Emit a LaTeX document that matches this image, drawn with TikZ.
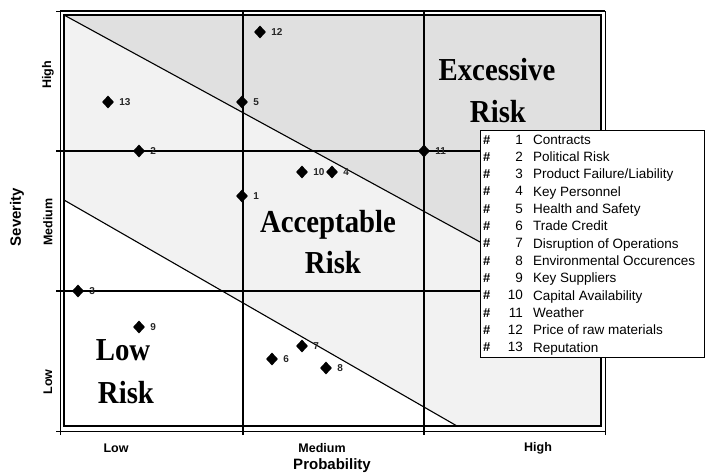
\documentclass[tikz,border=0pt]{standalone}
\usepackage{fontspec}
\setmainfont{Liberation Serif}
\setsansfont{Liberation Sans}
\usetikzlibrary{shapes.geometric}
\begin{document}
\begin{tikzpicture}[x=1pt,y=-1pt,
  pt/.style={diamond,fill=black,inner sep=0pt,minimum width=12pt,minimum height=13pt},
  plbl/.style={font=\sffamily\bfseries\fontsize{10}{12}\selectfont,inner sep=1pt,text=black!85},
  big/.style={font=\rmfamily\bfseries\fontsize{32}{36}\selectfont,inner sep=0pt,anchor=base},
  ticklbl/.style={font=\sffamily\bfseries\fontsize{12.5}{15}\selectfont,inner sep=0pt},
  axlbl/.style={font=\sffamily\bfseries\fontsize{15}{18}\selectfont,inner sep=0pt},
  leg/.style={font=\sffamily\fontsize{13.5}{16}\selectfont,inner sep=0pt,anchor=base west},
  leghash/.style={font=\sffamily\bfseries\fontsize{13}{16}\selectfont,inner sep=0pt,anchor=base west},
  legnum/.style={font=\sffamily\fontsize{13.5}{16}\selectfont,inner sep=0pt,anchor=base east},
  gridline/.style={line width=1.4pt},
  diag/.style={line width=1.1pt},
  label distance=4pt]
\useasboundingbox (0,0) rectangle (705,475);
% corners
\coordinate (o1) at (60,11);
\coordinate (o2) at (605,431);
\coordinate (i1) at (64,15);
\coordinate (i2) at (601,426);
% diagonal ends
\coordinate (ua) at (64,15);
\coordinate (ub) at (601,308);
\coordinate (la) at (64,200);
\coordinate (lb) at (457,426);
% regions
\fill[black!5] (la) -- (64,15) -- (601,15) -- (601,426) -- (lb) -- cycle;
\fill[black!12] (ua) -- (601,15) -- (ub) -- cycle;
% diagonals
\draw[diag] (ua) -- (ub);
\draw[diag] (la) -- (lb);
% grid
\coordinate (v1a) at (243,11); \coordinate (v1b) at (243,435);
\coordinate (v2a) at (424,11); \coordinate (v2b) at (424,435);
\coordinate (h1a) at (56,151); \coordinate (h1b) at (605,151);
\coordinate (h2a) at (56,291); \coordinate (h2b) at (605,291);
\draw[gridline] (v1a) -- (v1b);
\draw[gridline] (v2a) -- (v2b);
\draw[gridline] (h1a) -- (h1b);
\draw[gridline] (h2a) -- (h2b);
% frames
\draw[line width=0.9pt] (o1) rectangle (o2);
\draw[line width=2pt] (o1) -- (605,11);
\draw[line width=1.3pt] (i1) rectangle (i2);
% ticks
\foreach \y [count=\k] in {11,431} { \coordinate (tka\k) at (56,\y); \coordinate (tkb\k) at (60,\y); \draw (tka\k) -- (tkb\k); }
\foreach \x [count=\k] in {60,605} { \coordinate (tkc\k) at (\x,435); \coordinate (tkd\k) at (\x,431); \draw (tkc\k) -- (tkd\k); }
% points
\node[pt,label={[plbl]right:12}] (p12) at (260,32) {};
\node[pt,label={[plbl]right:13}] (p13) at (108,102) {};
\node[pt,label={[plbl]right:5}] (p5) at (242,102) {};
\node[pt,label={[plbl]right:2}] (p2) at (139,151) {};
\node[pt,label={[plbl]right:10}] (p10) at (302,172) {};
\node[pt,label={[plbl]right:4}] (p4) at (332,172) {};
\node[pt,label={[plbl]right:1}] (p1) at (242,196) {};
\node[pt,label={[plbl]right:11}] (p11) at (424,151) {};
\node[pt,label={[plbl]right:3}] (p3) at (78,291) {};
\node[pt,label={[plbl]right:9}] (p9) at (139,327) {};
\node[pt,label={[plbl]right:7}] (p7) at (302,346) {};
\node[pt,label={[plbl]right:6}] (p6) at (272,359) {};
\node[pt,label={[plbl]right:8}] (p8) at (326,368) {};
% region labels
\node[big] (ex1) at (497,80) {\scalebox{0.9}[1]{Excessive}};
\node[big] (ex2) at (498,122) {\scalebox{0.9}[1]{Risk}};
\node[big] (ac1) at (328,232) {\scalebox{0.9}[1]{Acceptable}};
\node[big] (ac2) at (333,273) {\scalebox{0.9}[1]{Risk}};
\node[big] (lo1) at (123,360) {\scalebox{0.9}[1]{Low}};
\node[big] (lo2) at (126,403) {\scalebox{0.9}[1]{Risk}};
% axis tick labels
\node[ticklbl,rotate=90] (yh) at (48,75) {High};
\node[ticklbl,rotate=90] (ym) at (48,222) {Medium};
\node[ticklbl,rotate=90] (yl) at (48,382) {Low};
\node[ticklbl] (xl) at (116,448) {Low};
\node[ticklbl] (xm) at (322,448) {Medium};
\node[ticklbl] (xh) at (538,448) {High};
\node[axlbl,rotate=90] (sev) at (17,217) {Severity};
\node[axlbl] (prob) at (332,466) {Probability};
% legend
\coordinate (lg1) at (480,130);
\coordinate (lg2) at (704.5,357);
\draw[fill=white,line width=0.9pt] (lg1) rectangle (lg2);
\foreach \i in {1,...,13} {
  \pgfmathsetmacro{\b}{144+(\i-1)*17.33}
  \node[leghash] (lh\i) at (483,\b) {\#};
  \node[legnum] (ln\i) at (523,\b) {\i};
}
\node[leg] (lt1) at (533,144) {Contracts};
\node[leg] (lt2) at (533,161.33) {Political Risk};
\node[leg] (lt3) at (533,178.66) {Product Failure/Liability};
\node[leg] (lt4) at (533,196) {Key Personnel};
\node[leg] (lt5) at (533,213.33) {Health and Safety};
\node[leg] (lt6) at (533,230.66) {Trade Credit};
\node[leg] (lt7) at (533,248) {Disruption of Operations};
\node[leg] (lt8) at (533,265.33) {Environmental Occurences};
\node[leg] (lt9) at (533,282.66) {Key Suppliers};
\node[leg] (lt10) at (533,300) {Capital Availability};
\node[leg] (lt11) at (533,317.33) {Weather};
\node[leg] (lt12) at (533,334.66) {Price of raw materials};
\node[leg] (lt13) at (533,352) {Reputation};
\end{tikzpicture}
\end{document}
